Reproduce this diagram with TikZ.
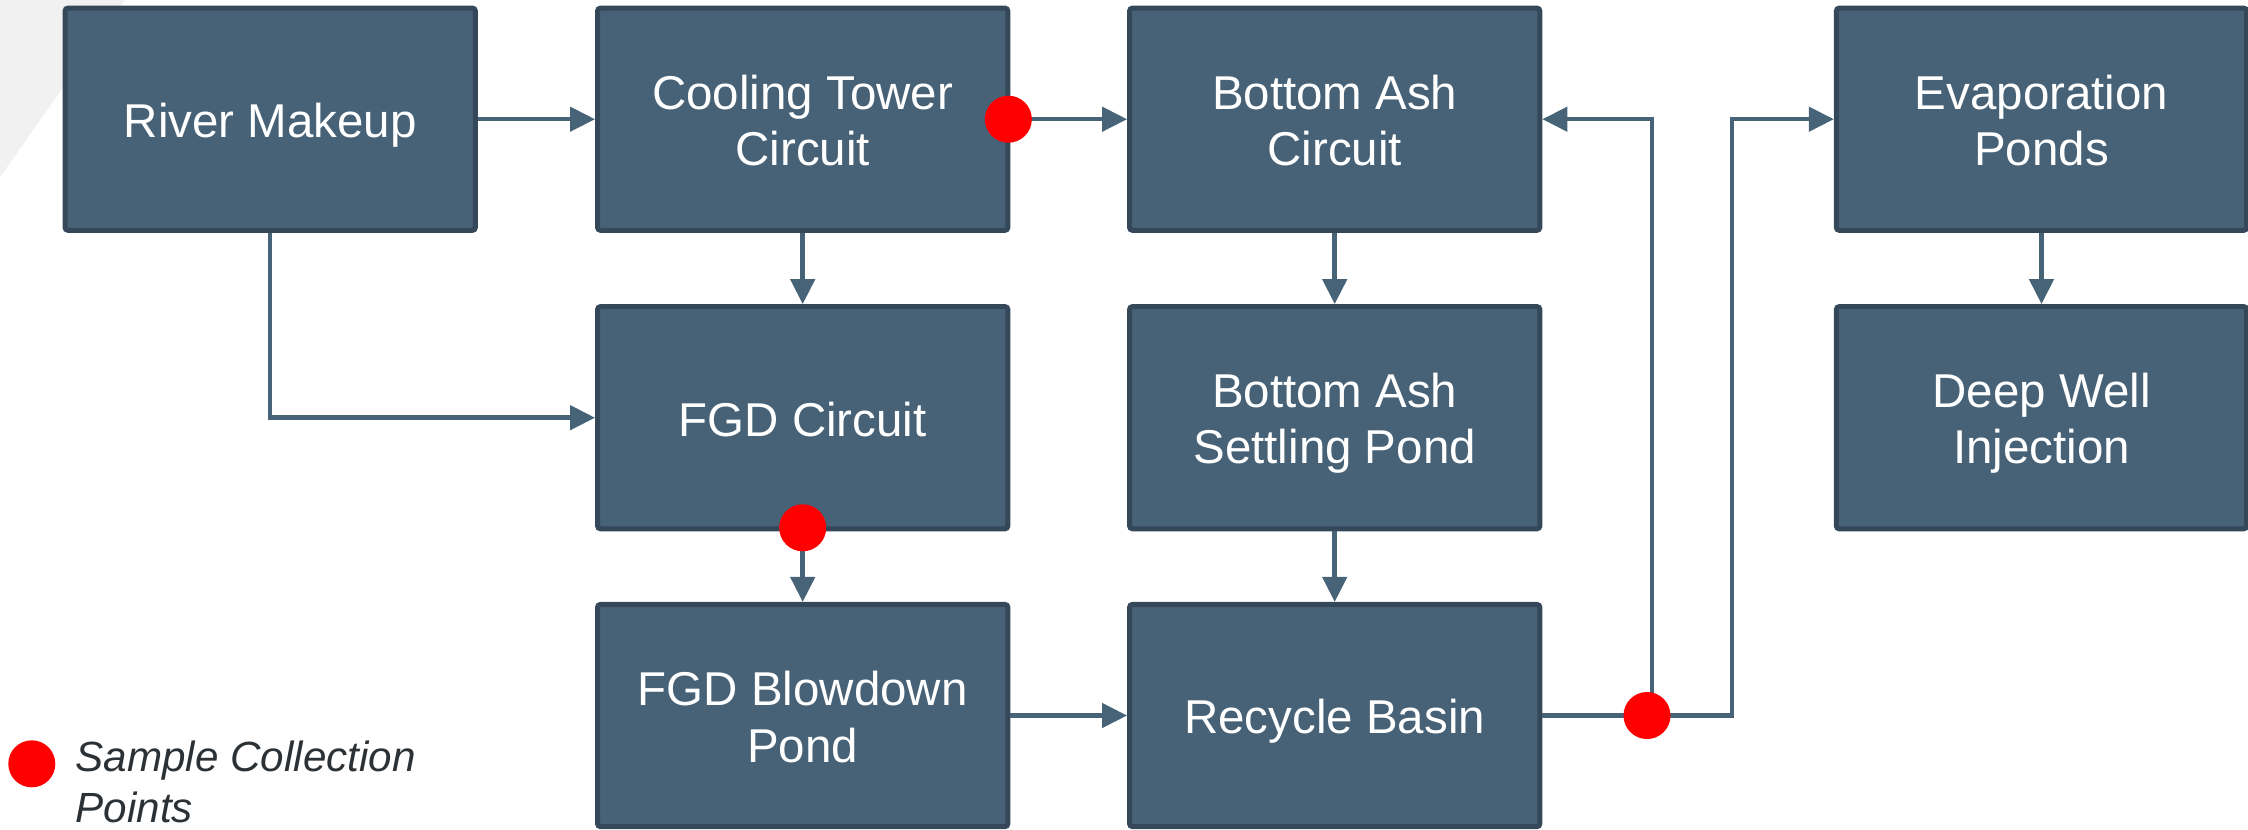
\documentclass[tikz,border=0pt]{standalone}
\usepackage{fontspec}
\setmainfont{Liberation Sans}
\usetikzlibrary{arrows.meta}

\definecolor{boxfill}{HTML}{476277}
\definecolor{boxedge}{HTML}{34485A}
\definecolor{flowblue}{HTML}{476378}
\definecolor{sample}{HTML}{FF0000}
\definecolor{legendtext}{HTML}{2B3135}
\definecolor{backdrop}{HTML}{F1F1F1}

% invisible rule giving a text line the full ascent and descent of the font
\newcommand\lineframe{\rule[-0.18em]{0pt}{1.14em}}

\begin{document}
\begin{tikzpicture}[x=0.01cm, y=-0.01cm,
  stage/.style={draw=boxedge, fill=boxfill, line width=0.05cm, rounded corners=0.8pt,
    minimum width=4.10cm, minimum height=2.22cm, inner sep=0pt, align=center,
    text=white, font=\fontsize{13.5}{16}\selectfont,
    execute at end node=\lineframe},
  flow/.style={draw=flowblue, line width=0.045cm,
    -{Triangle[length=0.25cm, width=0.24cm]}},
  tap/.style={circle, fill=sample, minimum size=0.47cm, inner sep=0pt}
]
\useasboundingbox (0,0) rectangle (2248,829);

% light backdrop wedge in the corner
\fill[backdrop] (0,0) -- (125,0) -- (0,177) -- cycle;

% process stages
\node[stage] (river)  at (270.2,119.2)  {River Makeup};
\node[stage] (tower)  at (802.7,119.2)  {\lineframe Cooling Tower\\Circuit};
\node[stage] (ashc)   at (1334.7,119.2) {\lineframe Bottom Ash\\Circuit};
\node[stage] (evap)   at (2041.5,119.2) {\lineframe Evaporation\\Ponds};
\node[stage] (fgd)    at (802.7,417.7)  {FGD Circuit};
\node[stage] (settle) at (1334.7,417.7) {\lineframe Bottom Ash\\Settling Pond};
\node[stage] (deep)   at (2041.5,417.7) {\lineframe Deep Well\\Injection};
\node[stage] (blow)   at (802.7,715.5)  {\lineframe FGD Blowdown\\Pond};
\node[stage] (basin)  at (1334.7,715.5) {Recycle Basin};

% flows
\draw[flow] (river.east) -- (tower.west);
\draw[flow] (river.south) |- (fgd.west);
\draw[flow] (tower.south) -- (fgd.north);
\draw[flow] (tower.east) -- (ashc.west);
\draw[flow] (fgd.south) -- (blow.north);
\draw[flow] (ashc.south) -- (settle.north);
\draw[flow] (settle.south) -- (basin.north);
\draw[flow] (blow.east) -- (basin.west);
\coordinate (split) at (1652,715.5);
\coordinate (rise)  at (1732,715.5);
\draw[flow] (basin.east) -- (rise) |- (evap.west);
\draw[flow] (split) |- (ashc.east);
\draw[flow] (evap.south) -- (deep.north);

% sampling points
\node[tap] (s1) at ([xshift=-0.02cm]tower.east) {};
\node[tap] (s2) at ([yshift=0.035cm]fgd.south) {};
\node[tap] (s3) at ([xshift=-0.05cm]split) {};

% legend
\node[tap] (legdot) at (31.8,763.8) {};
\node[anchor=west, inner sep=0pt, align=left, text=legendtext,
  font=\fontsize{12}{14.5}\selectfont\itshape] (legtext) at (75,781.5)
  {Sample Collection\\Points};
\end{tikzpicture}
\end{document}
